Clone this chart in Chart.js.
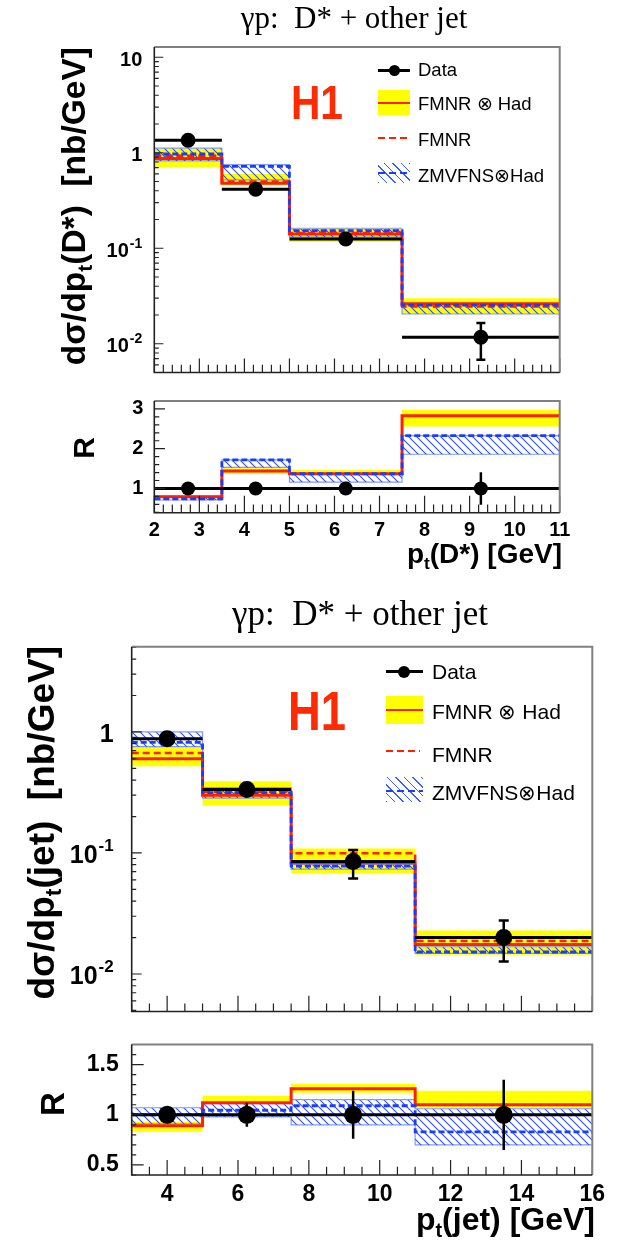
<!DOCTYPE html>
<html>
<head>
<meta charset="utf-8">
<title>gamma p: D* + other jet</title>
<script src="https://cdn.jsdelivr.net/npm/chart.js@4.4.1/dist/chart.umd.min.js"></script>
<style>
  body { margin: 0; background: #fff; }
  #page { position: relative; width: 619px; height: 1247px; overflow: hidden; font-family: "Liberation Sans", Arial, sans-serif; color: #000; }
  .pane { position: absolute; left: 0; }
  .t { position: absolute; white-space: pre; line-height: 1; }
  .serif { font-family: "Liberation Serif", "Times New Roman", serif; transform: translateX(-50%); }
  .b { font-weight: bold; }
  .vert { transform-origin: 0 0; transform: rotate(-90deg) translate(-100%, -50%); }
  .rlab { transform: translate(-50%, -50%) rotate(-90deg); }
  .xt { text-align: right; }
  sub { font-size: 0.62em; vertical-align: -0.34em; line-height: 0; }
  .h1 { color: #ff2a00; font-weight: bold; transform-origin: 0 0; }
  .s { position: absolute; }
  .dot { border-radius: 50%; background: #000; }
  .yel { background: #ffff00; }
  .red { background: #ff2000; }
  .rdash { background: repeating-linear-gradient(90deg, #ff2000 0 7px, transparent 7px 11px); }
  .bdash { background: repeating-linear-gradient(90deg, #1a3cff 0 7px, transparent 7px 11px); }
  .hatch { background: repeating-linear-gradient(45deg, #3a5cff 0 1px, transparent 1px 6px); }
</style>
</head>
<body>
<div id="page">
  <div class="pane" style="top:0px"><canvas id="cA" width="619" height="380"></canvas></div>
  <div class="pane" style="top:380px"><canvas id="cB" width="619" height="220"></canvas></div>
  <div class="pane" style="top:600px"><canvas id="cC" width="619" height="420"></canvas></div>
  <div class="pane" style="top:1020px"><canvas id="cD" width="619" height="227"></canvas></div>

  <!-- top pair -->
  <div class="t serif" style="left:354px;top:2.3px;font-size:31px">γp:  D* + other jet</div>
  <div class="t b vert" style="left:74px;top:47px;font-size:33.5px">dσ/dp<sub>t</sub>(D*)  [nb/GeV]</div>
  <div class="t h1" style="left:291px;top:77.6px;font-size:49px;transform:scaleX(0.83)">H1</div>
  <div class="t b rlab" style="left:84px;top:448px;font-size:30px">R</div>
  <div class="t b xt" style="right:57px;top:540px;font-size:28px">p<sub>t</sub>(D*) [GeV]</div>

  <div class="s" style="left:378px;top:68.5px;width:32px;height:3px;background:#000"></div>
  <div class="s dot" style="left:388.5px;top:64.5px;width:11px;height:11px"></div>
  <div class="t" style="left:418px;top:61px;font-size:18.5px">Data</div>
  <div class="s yel" style="left:378px;top:90px;width:32px;height:25px"></div>
  <div class="s red" style="left:378px;top:101.5px;width:32px;height:2.5px"></div>
  <div class="t" style="left:418px;top:95px;font-size:18.5px">FMNR ⊗ Had</div>
  <div class="s rdash" style="left:378px;top:136.5px;width:30px;height:2.5px"></div>
  <div class="t" style="left:418px;top:131px;font-size:18.5px">FMNR</div>
  <div class="s hatch" style="left:378px;top:163px;width:32px;height:20px"></div>
  <div class="s bdash" style="left:378px;top:171.5px;width:32px;height:2.5px"></div>
  <div class="t" style="left:418px;top:167px;font-size:18.5px">ZMVFNS⊗Had</div>

  <!-- bottom pair -->
  <div class="t serif" style="left:360px;top:595.7px;font-size:35px">γp:  D* + other jet</div>
  <div class="t b vert" style="left:41px;top:646px;font-size:37px">dσ/dp<sub>t</sub>(jet)  [nb/GeV]</div>
  <div class="t h1" style="left:287.5px;top:682.7px;font-size:56px;transform:scaleX(0.81)">H1</div>
  <div class="t b rlab" style="left:51.5px;top:1104px;font-size:33px">R</div>
  <div class="t b xt" style="right:24px;top:1202.5px;font-size:32px">p<sub>t</sub>(jet) [GeV]</div>

  <div class="s" style="left:386px;top:670.2px;width:37px;height:3px;background:#000"></div>
  <div class="s dot" style="left:398px;top:665.7px;width:12px;height:12px"></div>
  <div class="t" style="left:432px;top:661.4px;font-size:21px">Data</div>
  <div class="s yel" style="left:386px;top:696px;width:37px;height:28px"></div>
  <div class="s red" style="left:386px;top:708.7px;width:37px;height:2.6px"></div>
  <div class="t" style="left:432px;top:701.4px;font-size:21px">FMNR ⊗ Had</div>
  <div class="s rdash" style="left:386px;top:749.5px;width:34px;height:2.6px"></div>
  <div class="t" style="left:432px;top:743.7px;font-size:21px">FMNR</div>
  <div class="s hatch" style="left:386px;top:776.7px;width:37px;height:25px"></div>
  <div class="s bdash" style="left:386px;top:789.5px;width:37px;height:2.6px"></div>
  <div class="t" style="left:432px;top:782.4px;font-size:21px">ZMVFNS⊗Had</div>
</div>

<script>
// ---- p_t(D*) : cross section [nb/GeV]
var dstEdges = [2, 3.5, 5, 7.5, 11];
var dstCentres = [2.75, 4.25, 6.25, 9.25];
var dstData = [1.35, 0.415, 0.125, 0.0117];
var dstDataLo = [1.28, 0.395, 0.118, 0.0068];
var dstDataHi = [1.42, 0.435, 0.132, 0.0165];
var dstFmnrHad = [0.87, 0.48, 0.141, 0.0262];
var dstFmnrHadLo = [0.71, 0.46, 0.116, 0.0205];
var dstFmnrHadHi = [1.12, 0.60, 0.166, 0.0300];
var dstFmnr = [0.93, 0.50, 0.144, 0.0246];
var dstZmvfns = [0.97, 0.72, 0.153, 0.0254];
var dstZmvfnsLo = [0.82, 0.52, 0.131, 0.0205];
var dstZmvfnsHi = [1.12, 0.75, 0.160, 0.0256];

// ---- p_t(D*) : ratio R
var dstRatio = [1, 1, 1, 1];
var dstRatioLo = [0.93, 0.94, 0.94, 0.59];
var dstRatioHi = [1.07, 1.06, 1.06, 1.41];
var dstRatioFmnrHad = [0.79, 1.44, 1.37, 2.83];
var dstRatioFmnrHadLo = [0.76, 1.37, 1.33, 2.56];
var dstRatioFmnrHadHi = [0.82, 1.51, 1.47, 2.98];
var dstRatioZmvfns = [0.74, 1.72, 1.37, 2.33];
var dstRatioZmvfnsLo = [0.71, 1.53, 1.16, 1.86];
var dstRatioZmvfnsHi = [0.80, 1.72, 1.37, 2.33];

// ---- p_t(jet) : cross section [nb/GeV]
var jetEdges = [3, 5, 7.5, 11, 16];
var jetCentres = [4, 6.25, 9.25, 13.5];
var jetData = [0.88, 0.335, 0.085, 0.0200];
var jetDataLo = [0.84, 0.31, 0.0614, 0.0127];
var jetDataHi = [0.92, 0.36, 0.106, 0.0277];
var jetFmnrHad = [0.60, 0.30, 0.083, 0.0175];
var jetFmnrHadLo = [0.52, 0.246, 0.0676, 0.0144];
var jetFmnrHadHi = [0.77, 0.392, 0.109, 0.0229];
var jetFmnr = [0.67, 0.32, 0.0995, 0.0187];
var jetZmvfns = [0.82, 0.315, 0.078, 0.0152];
var jetZmvfnsLo = [0.755, 0.284, 0.0735, 0.0148];
var jetZmvfnsHi = [1.00, 0.346, 0.0805, 0.0168];

// ---- p_t(jet) : ratio R
var jetRatio = [1, 1, 1, 1];
var jetRatioLo = [0.96, 0.88, 0.76, 0.65];
var jetRatioHi = [1.04, 1.12, 1.24, 1.35];
var jetRatioFmnrHad = [0.89, 1.12, 1.26, 1.10];
var jetRatioFmnrHadLo = [0.83, 1.11, 1.22, 1.07];
var jetRatioFmnrHadHi = [0.93, 1.19, 1.31, 1.24];
var jetRatioZmvfns = [1.0, 1.045, 1.09, 0.83];
var jetRatioZmvfnsLo = [0.91, 0.98, 0.90, 0.70];
var jetRatioZmvfnsHi = [1.07, 1.11, 1.15, 1.06];

// ---- tick labels (log labels: [mantissa, exponent])
var logTicksA = [0.01, 0.1, 1, 10];
var logLabelsA = [['10', '-2'], ['10', '-1'], ['1', ''], ['10', '']];
var logTicksC = [0.01, 0.1, 1];
var logLabelsC = [['10', '-2'], ['10', '-1'], ['1', '']];
var dstXTicks = [2, 3, 4, 5, 6, 7, 8, 9, 10, 11];
var dstXLabels = ['2', '3', '4', '5', '6', '7', '8', '9', '10', '11'];
var jetXTicks = [4, 6, 8, 10, 12, 14, 16];
var jetXLabels = ['4', '6', '8', '10', '12', '14', '16'];
var dstRTicks = [1, 2, 3];
var dstRLabels = ['1', '2', '3'];
var jetRTicks = [0.5, 1, 1.5];
var jetRLabels = ['0.5', '1', '1.5'];

var YELLOW = '#ffff00', RED = '#ff2000', BLUE = '#1a3cff', BAND = '#7f99ff';
var FONT = '"Liberation Sans", Arial, sans-serif';

function steps(lo, hi, st) {
  var out = [];
  for (var v = lo; v <= hi + 1e-9; v += st) out.push(Math.round(v * 1000) / 1000);
  return out;
}
function logMinor(lo, hi) {
  var out = [];
  for (var d = -3; d <= 1; d++) {
    for (var m = 2; m <= 9; m++) {
      var v = m * Math.pow(10, d);
      if (v >= lo && v <= hi) out.push(v);
    }
  }
  return out;
}

function stepPoints(edges, vals) {
  var pts = [];
  for (var i = 0; i < vals.length; i++) pts.push({ x: edges[i], y: vals[i] });
  pts.push({ x: edges[vals.length], y: vals[vals.length - 1] });
  return pts;
}
function segPoints(edges, vals) {
  var pts = [];
  for (var i = 0; i < vals.length; i++) {
    pts.push({ x: edges[i], y: vals[i] }, { x: edges[i + 1], y: vals[i] }, { x: edges[i + 1], y: null });
  }
  return pts;
}
function errPoints(cx, lo, hi) {
  var pts = [];
  for (var i = 0; i < cx.length; i++) {
    pts.push({ x: cx[i], y: lo[i] }, { x: cx[i], y: hi[i] }, { x: cx[i], y: null });
  }
  return pts;
}
function dotPoints(cx, vals) {
  return cx.map(function (x, i) { return { x: x, y: vals[i] }; });
}

// frame, inward ticks and power-of-ten labels, the way ROOT draws them
var rootFrame = {
  id: 'rootFrame',
  afterDraw: function (chart, args, o) {
    var ctx = chart.ctx, a = chart.chartArea;
    var xs = chart.scales.x, ys = chart.scales.y;
    ctx.save();
    ctx.strokeStyle = '#222';
    ctx.lineWidth = 1.2;
    ctx.beginPath();
    o.xMinor.forEach(function (v) { var p = xs.getPixelForValue(v); ctx.moveTo(p, a.bottom); ctx.lineTo(p, a.bottom - o.xMin); });
    o.xMajor.forEach(function (v) { var p = xs.getPixelForValue(v); ctx.moveTo(p, a.bottom); ctx.lineTo(p, a.bottom - o.xMaj); });
    o.yMinor.forEach(function (v) { var p = ys.getPixelForValue(v); ctx.moveTo(a.left, p); ctx.lineTo(a.left + o.yMin, p); });
    o.yMajor.forEach(function (v) { var p = ys.getPixelForValue(v); ctx.moveTo(a.left, p); ctx.lineTo(a.left + o.yMaj, p); });
    ctx.stroke();
    ctx.lineWidth = 2;
    ctx.strokeStyle = '#808080';
    ctx.beginPath();
    ctx.moveTo(a.left, a.top); ctx.lineTo(a.right, a.top); ctx.lineTo(a.right, a.bottom);
    ctx.stroke();
    ctx.lineWidth = 1.6;
    ctx.strokeStyle = '#222';
    ctx.beginPath();
    ctx.moveTo(a.left, a.top); ctx.lineTo(a.left, a.bottom); ctx.lineTo(a.right, a.bottom);
    ctx.stroke();

    if (o.powLabels) {
      var f = o.powFont, fs = Math.round(f * 0.68);
      ctx.fillStyle = '#000';
      ctx.textBaseline = 'middle';
      o.yMajor.forEach(function (v, i) {
        var lab = o.powLabels[i], p = ys.getPixelForValue(v) + o.powShift;
        var right = a.left - o.powPad;
        ctx.textAlign = 'right';
        if (lab[1]) {
          ctx.font = 'bold ' + fs + 'px ' + FONT;
          var w = ctx.measureText(lab[1]).width;
          ctx.fillText(lab[1], right, p - f * 0.38);
          right -= w + 1;
        }
        ctx.font = 'bold ' + f + 'px ' + FONT;
        ctx.fillText(lab[0], right, p);
      });
    }
    ctx.restore();
  }
};
Chart.register(rootFrame);

function hatchPattern(canvas) {
  var c = document.createElement('canvas');
  c.width = 8; c.height = 8;
  var g = c.getContext('2d');
  g.strokeStyle = 'rgba(35,70,255,0.95)';
  g.lineWidth = 1.1;
  g.beginPath();
  g.moveTo(0, 0); g.lineTo(8, 8);
  g.moveTo(-1, 7); g.lineTo(1, 9);
  g.moveTo(7, -1); g.lineTo(9, 1);
  g.stroke();
  return canvas.getContext('2d').createPattern(c, 'repeat');
}

function drawPanel(id, p) {
  var canvas = document.getElementById(id);
  var sets = [
    { data: stepPoints(p.edges, p.hadLo), borderColor: 'rgba(0,0,0,0)', stepped: true, order: 10 },
    { data: stepPoints(p.edges, p.hadHi), borderColor: 'rgba(0,0,0,0)', backgroundColor: YELLOW, fill: 0, stepped: true, order: 9 },
    { data: stepPoints(p.edges, p.zmLo), borderColor: BAND, borderWidth: 1.2, stepped: true, order: 8 },
    { data: stepPoints(p.edges, p.zmHi), borderColor: BAND, borderWidth: 1.2, backgroundColor: hatchPattern(canvas), fill: 2, stepped: true, order: 7 },
    { data: stepPoints(p.edges, p.had), borderColor: RED, borderWidth: 3, stepped: true, order: 6 }
  ];
  if (p.fmnr) {
    sets.push({ data: stepPoints(p.edges, p.fmnr), borderColor: RED, borderWidth: 2.5, borderDash: [7, 4], stepped: true, order: 5 });
  }
  sets.push(
    { data: stepPoints(p.edges, p.zm), borderColor: BLUE, borderWidth: 2.8, borderDash: [6, 3], stepped: true, order: 4 },
    { data: segPoints(p.edges, p.data), borderColor: '#000', borderWidth: 3, order: 3 },
    { data: errPoints(p.centres, p.lo, p.hi), borderColor: '#000', borderWidth: 2.5, pointStyle: 'line',
      pointRadius: p.caps, pointBorderColor: '#000', pointBorderWidth: 2.5, order: 2 },
    { data: dotPoints(p.centres, p.data), showLine: false, pointRadius: p.dot, pointBackgroundColor: '#000',
      pointBorderWidth: 0, order: 1 }
  );
  sets.forEach(function (s) { s.type = 'line'; if (s.fill === undefined) s.fill = false; });

  new Chart(canvas, {
    type: 'line',
    data: { datasets: sets },
    options: {
      responsive: false,
      animation: false,
      events: [],
      layout: { padding: { left: 0, top: p.padTop, right: p.padRight, bottom: 0 } },
      elements: { point: { radius: 0 }, line: { tension: 0 } },
      plugins: {
        legend: { display: false },
        tooltip: { enabled: false },
        rootFrame: { xMajor: p.xTicks, xMinor: p.xMinor, yMajor: p.yTicks, yMinor: p.yMinor,
                     xMaj: p.len[0], xMin: p.len[1], yMaj: p.len[2], yMin: p.len[3],
                     powLabels: p.powLabels || null, powFont: p.yFont, powPad: p.yPad, powShift: p.powShift || 0 }
      },
      scales: {
        x: {
          type: 'linear', min: p.edges[0], max: p.edges[p.edges.length - 1], bounds: 'data',
          grid: { display: false, drawTicks: false }, border: { display: false },
          ticks: {
            display: !!p.xLabels, autoSkip: false, maxRotation: 0, padding: p.xPad, color: '#000',
            font: { family: FONT, weight: 'bold', size: p.xFont, lineHeight: 1 },
            callback: function (v, i) { return p.xLabels ? p.xLabels[i] : ''; }
          },
          afterBuildTicks: function (s) { s.ticks = p.xTicks.map(function (v) { return { value: v }; }); },
          afterFit: function (s) { s.height = p.xHeight; }
        },
        y: {
          type: p.yType, min: p.yMin, max: p.yMax, bounds: 'data',
          grid: { display: false, drawTicks: false }, border: { display: false },
          ticks: {
            display: !p.powLabels, autoSkip: false, padding: p.yPad, color: '#000',
            font: { family: FONT, weight: 'bold', size: p.yFont, lineHeight: 1 },
            callback: function (v, i) { return p.yLabels ? p.yLabels[i] : ''; }
          },
          afterBuildTicks: function (s) { s.ticks = p.yTicks.map(function (v) { return { value: v }; }); },
          afterFit: function (s) { s.width = p.yWidth; }
        }
      }
    }
  });
}

drawPanel('cA', {
  edges: dstEdges, centres: dstCentres, data: dstData, lo: dstDataLo, hi: dstDataHi,
  had: dstFmnrHad, hadLo: dstFmnrHadLo, hadHi: dstFmnrHadHi, fmnr: dstFmnr,
  zm: dstZmvfns, zmLo: dstZmvfnsLo, zmHi: dstZmvfnsHi,
  caps: [0, 0, 0, 0, 0, 0, 0, 0, 0, 4.5, 4.5, 0], dot: 7.5,
  yType: 'logarithmic', yMin: 0.005, yMax: 12.8, yTicks: logTicksA, powLabels: logLabelsA, yMinor: logMinor(0.005, 12.8),
  xTicks: dstXTicks, xLabels: null, xMinor: steps(2, 11, 0.2),
  padTop: 47, padRight: 59.3, yWidth: 154.3, xHeight: 6.7, yPad: 12, xPad: 0, yFont: 20, xFont: 20, powShift: 3,
  len: [14, 7.7, 9, 4.5]
});

drawPanel('cB', {
  edges: dstEdges, centres: dstCentres, data: dstRatio, lo: dstRatioLo, hi: dstRatioHi,
  had: dstRatioFmnrHad, hadLo: dstRatioFmnrHadLo, hadHi: dstRatioFmnrHadHi, fmnr: null,
  zm: dstRatioZmvfns, zmLo: dstRatioZmvfnsLo, zmHi: dstRatioZmvfnsHi,
  caps: 0, dot: 7,
  yType: 'linear', yMin: 0.39, yMax: 3.2, yTicks: dstRTicks, yLabels: dstRLabels, yMinor: steps(0.4, 3.2, 0.2),
  xTicks: dstXTicks, xLabels: dstXLabels, xMinor: steps(2, 11, 0.2),
  padTop: 5.3, padRight: 59.3, yWidth: 154.3, xHeight: 87.3, yPad: 11, xPad: 7.3, yFont: 20, xFont: 20,
  len: [17, 8.3, 10.7, 5]
});

drawPanel('cC', {
  edges: jetEdges, centres: jetCentres, data: jetData, lo: jetDataLo, hi: jetDataHi,
  had: jetFmnrHad, hadLo: jetFmnrHadLo, hadHi: jetFmnrHadHi, fmnr: jetFmnr,
  zm: jetZmvfns, zmLo: jetZmvfnsLo, zmHi: jetZmvfnsHi,
  caps: 5, dot: 8.5,
  yType: 'logarithmic', yMin: 0.0049, yMax: 5.06, yTicks: logTicksC, powLabels: logLabelsC, yMinor: logMinor(0.0049, 5.06),
  xTicks: jetXTicks, xLabels: null, xMinor: steps(3, 16, 0.5),
  padTop: 46.7, padRight: 26.7, yWidth: 131.7, xHeight: 2.7, yPad: 18, xPad: 0, yFont: 25, xFont: 23, powShift: 3,
  len: [15.7, 8, 10, 4.5]
});

drawPanel('cD', {
  edges: jetEdges, centres: jetCentres, data: jetRatio, lo: jetRatioLo, hi: jetRatioHi,
  had: jetRatioFmnrHad, hadLo: jetRatioFmnrHadLo, hadHi: jetRatioFmnrHadHi, fmnr: null,
  zm: jetRatioZmvfns, zmLo: jetRatioZmvfnsLo, zmHi: jetRatioZmvfnsHi,
  caps: 0, dot: 9,
  yType: 'linear', yMin: 0.4, yMax: 1.7, yTicks: jetRTicks, yLabels: jetRLabels, yMinor: steps(0.4, 1.7, 0.1),
  xTicks: jetXTicks, xLabels: jetXLabels, xMinor: steps(3, 16, 0.5),
  padTop: 10.7, padRight: 26.7, yWidth: 131.7, xHeight: 72, yPad: 13, xPad: 8.5, yFont: 23, xFont: 23,
  len: [15, 8.3, 12, 4.5]
});
</script>
</body>
</html>
